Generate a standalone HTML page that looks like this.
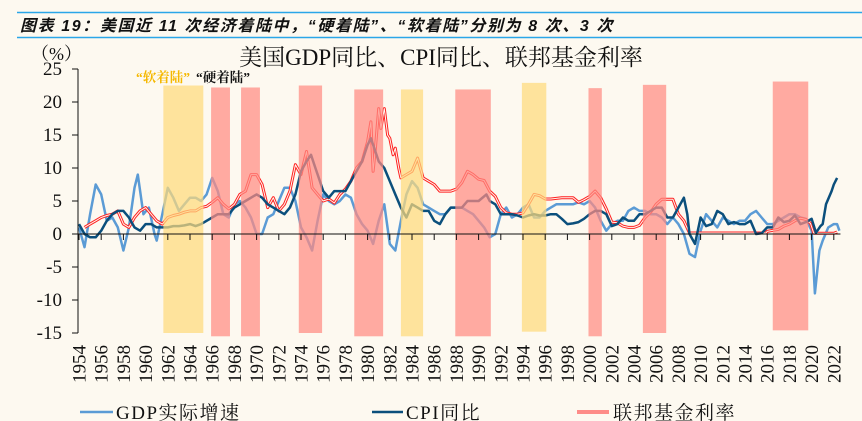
<!DOCTYPE html>
<html><head><meta charset="utf-8">
<style>
body{margin:0;background:#fdf9f0;}
#wrap{position:relative;width:862px;height:421px;background:#fdf9f0;overflow:hidden;font-family:"Liberation Serif","Noto Serif CJK SC",serif;}
</style></head>
<body>
<div id="wrap">
<svg id="svg" width="862" height="421" xmlns="http://www.w3.org/2000/svg">
<line x1="17" y1="12.5" x2="862" y2="12.5" stroke="#2aa6e8" stroke-width="1.5"/>
<line x1="17" y1="37.5" x2="862" y2="37.5" stroke="#2aa6e8" stroke-width="1.5"/>
<text x="20" y="31" font-family="'Liberation Sans','Noto Sans CJK SC',sans-serif" font-size="16" font-weight="bold" font-style="italic" letter-spacing="1.6" fill="#111">图表 19：美国近 11 次经济着陆中，“硬着陆”、“软着陆”分别为 8 次、3 次</text>
<text x="441" y="65" text-anchor="middle" font-size="23" fill="#111">美国GDP同比、CPI同比、联邦基金利率</text>
<text x="31" y="60" font-size="18" fill="#111">（%）</text>
<text x="136" y="82" font-size="13.5" font-weight="bold" fill="#f5b800" font-family="'Liberation Serif','Noto Serif CJK SC',serif">“软着陆”</text>
<text x="196" y="82" font-size="13.5" font-weight="bold" fill="#111" font-family="'Liberation Serif','Noto Serif CJK SC',serif">“硬着陆”</text>
<g id="lines"></g>
<g id="bands"></g>
<g id="axes"></g>
<g>
<line x1="80" y1="412" x2="113" y2="412" stroke="#5b9bd5" stroke-width="2.5"/>
<text x="116" y="419" font-size="19" letter-spacing="1.5" fill="#111">GDP实际增速</text>
<line x1="372" y1="412" x2="403" y2="412" stroke="#0b4f7c" stroke-width="2.5"/>
<text x="406" y="419" font-size="19" letter-spacing="1.5" fill="#111">CPI同比</text>
<line x1="577" y1="412" x2="609" y2="412" stroke="#ff2020" stroke-width="3"/>
<line x1="577" y1="412" x2="609" y2="412" stroke="#fdf9f0" stroke-width="1"/>
<text x="613" y="419" font-size="19" letter-spacing="1.5" fill="#111">联邦基金利率</text>
</g>
</svg>
</div>
<script>
const yTicks=[25,20,15,10,5,0,-5,-10,-15];
const xYears=[1954,1956,1958,1960,1962,1964,1966,1968,1970,1972,1974,1976,1978,1980,1982,1984,1986,1988,1990,1992,1994,1996,1998,2000,2002,2004,2006,2008,2010,2012,2014,2016,2018,2020,2022];
const bandStart=[1961.6,1965.9,1968.6,1973.8,1978.8,1983.0,1987.9,1993.9,1999.9,2004.8,2016.5];
const bandEnd=[1965.2,1967.6,1970.3,1975.9,1981.4,1985.0,1991.1,1996.1,2001.1,2006.9,2019.7];
const bandTop=[22.5,22.2,22.2,22.5,21.9,21.9,21.9,22.9,22.1,22.6,23.1];
const bandBottom=[-15,-15.5,-15.5,-15,-15.5,-15.5,-15.5,-14.8,-15.5,-15,-14.6];
const bandType=['soft','hard','hard','hard','hard','soft','hard','soft','hard','hard','hard'];
const gdpT=[1954,1954.5,1955,1955.5,1956,1956.5,1957,1957.5,1958,1958.5,1959,1959.3,1959.8,1960.3,1960.8,1961,1961.5,1962,1962.5,1963,1963.5,1964,1964.5,1965,1965.5,1966,1966.5,1967,1967.5,1968,1968.5,1969,1969.5,1970,1970.5,1971,1971.5,1972,1972.5,1973,1973.5,1974,1974.5,1975,1975.5,1976,1976.5,1977,1977.5,1978,1978.5,1979,1979.5,1980,1980.5,1981,1981.5,1982,1982.5,1983,1983.5,1984,1984.5,1985,1985.5,1986,1986.5,1987,1987.5,1988,1988.5,1989,1989.5,1990,1990.5,1991,1991.5,1992,1992.5,1993,1993.5,1994,1994.5,1995,1995.5,1996,1996.5,1997,1997.5,1998,1998.5,1999,1999.5,2000,2000.5,2001,2001.5,2002,2002.5,2003,2003.5,2004,2004.5,2005,2005.5,2006,2006.5,2007,2007.5,2008,2008.5,2009,2009.5,2010,2010.5,2011,2011.5,2012,2012.5,2013,2013.5,2014,2014.5,2015,2015.5,2016,2016.5,2017,2017.5,2018,2018.5,2019,2019.5,2020,2020.3,2020.7,2021,2021.5,2022,2022.3,2022.5];
const gdpV=[1,-2,3,7.5,6,2,2.5,1,-2.5,1,7,9,3,4,0,-1,3,7,5.5,3.5,4.5,5.5,5.5,5,6,8.5,6.5,3,2.5,4.5,5,4,2.5,0,0,2.5,3,5,7,7,5,1,-0.5,-2.5,2,6,5,4.5,5,6,5.5,3,1.5,0.5,-1.5,2,4.5,-1.5,-2.5,2,6,8,7,4.5,4,3.5,3,3,4,4,4,3.5,3,2,1,-0.5,0,3,4,2.5,3,4,4.5,2.5,2.5,3.5,4,4.5,4.5,4.5,4.5,4.8,4.5,5,4,2,0.5,1.5,2,2,3.5,4,3.5,3.5,3,3,2.5,1.5,2.5,1.5,0,-3,-3.5,0.5,3,2,1,2.5,2,1.5,2,2,3,3.5,2.5,1.5,1.5,2,2.5,3,3,2.5,2.3,0.5,-9,-2.5,-1,1,1.5,1.5,0.5];
const cpiT=[1954,1954.5,1955,1955.5,1956,1956.5,1957,1957.5,1958,1958.5,1959,1959.5,1960,1960.5,1961,1961.5,1962,1962.5,1963,1963.5,1964,1964.5,1965,1965.5,1966,1966.5,1967,1967.5,1968,1968.5,1969,1969.5,1970,1970.5,1971,1971.5,1972,1972.5,1973,1973.5,1974,1974.5,1974.9,1975.3,1975.7,1976,1976.5,1977,1977.5,1978,1978.5,1979,1979.5,1980,1980.3,1980.7,1981,1981.5,1982,1982.5,1983,1983.5,1984,1984.5,1985,1985.5,1986,1986.5,1987,1987.5,1988,1988.5,1989,1989.5,1990,1990.7,1991,1991.5,1992,1992.5,1993,1993.5,1994,1994.5,1995,1995.5,1996,1996.5,1997,1997.5,1998,1998.5,1999,1999.5,2000,2000.5,2001,2001.5,2002,2002.5,2003,2003.5,2004,2004.5,2005,2005.5,2006,2006.5,2007,2007.5,2008,2008.5,2008.8,2009,2009.5,2010,2010.5,2011,2011.5,2012,2012.5,2013,2013.5,2014,2014.5,2015,2015.5,2016,2016.5,2017,2017.5,2018,2018.5,2019,2019.5,2020,2020.4,2020.8,2021,2021.3,2021.8,2022,2022.3];
const cpiV=[1.5,0,-0.5,-0.5,0.5,2,3,3.5,3.5,2.5,1,0.5,1.5,1.5,1,1,1,1.2,1.2,1.3,1.5,1.2,1.5,2,2.5,3,3,3,4,4.5,5,5.5,6,5.5,4.5,4,3.5,3,4,6,9.5,11,12,10,8,6.5,5.5,6.5,6.5,6.5,8,9.5,11,13.5,14.5,12.5,11,10,8,6,4,2.5,4.5,4,3.5,3.5,2,1.5,3,4,4,4,5,5,5,6,5,4.5,3,3,3,2.8,2.5,2.8,3,2.8,2.8,3,3,2.3,1.5,1.6,1.8,2.3,3,3.5,3.5,3,1.2,1.5,2.5,2,2,3,3,3.5,4,4,2.5,2.5,4,5.5,3,0,-1.5,2.5,1.2,1.5,3.5,3,1.5,1.8,1.5,1.5,2,0,0.1,1,1,2.5,1.8,2,2.8,1.5,1.8,2.3,0.2,1.2,1.5,4.5,6.5,7.5,8.5];
const ffrT=[1954.5,1955,1955.5,1956,1956.5,1957,1957.5,1958,1958.5,1959,1959.5,1960,1960.5,1961,1961.5,1962,1962.5,1963,1963.5,1964,1964.5,1965,1965.5,1966,1966.5,1967,1967.5,1968,1968.5,1969,1969.5,1970,1970.5,1971,1971.5,1972,1972.5,1973,1973.5,1974,1974.5,1975,1975.5,1976,1976.5,1977,1977.5,1978,1978.5,1979,1979.5,1980,1980.3,1980.5,1980.7,1981,1981.2,1981.5,1981.8,1982,1982.3,1982.5,1982.8,1983,1983.5,1984,1984.5,1985,1985.5,1986,1986.5,1987,1987.5,1988,1988.5,1989,1989.5,1990,1990.5,1991,1991.5,1992,1992.5,1993,1993.5,1994,1994.5,1995,1995.5,1996,1996.5,1997,1997.5,1998,1998.5,1999,1999.5,2000,2000.5,2001,2001.5,2002,2002.5,2003,2003.5,2004,2004.5,2005,2005.5,2006,2006.5,2007,2007.5,2008,2008.5,2009,2015.9,2016,2017,2017.5,2018,2018.5,2019,2019.5,2019.9,2020.2,2022,2022.3];
const ffrV=[1,1.5,2,2.5,2.8,3,3.5,1.5,1,2.5,3.5,4,3,2,1.5,2.5,2.8,3,3.3,3.5,3.5,4,4.2,4.8,5.5,4.5,3.8,4.5,6,6.5,9,9,7.5,4,5.5,3.5,4.5,6.5,10.5,9,12.5,7,6,5,5.3,4.7,6,6.8,8,10,11,14,17,9.5,13,19,16,19,15,14.5,12,13,10,8.5,9,9.5,11.5,8.5,8,7.5,6.5,6.5,6.5,6.8,7.8,9.5,9,8.3,8.1,6.5,5.7,4,3.2,3,3,3.2,4.5,6,5.8,5.3,5.3,5.4,5.5,5.5,5.5,4.8,5.2,5.7,6.5,5.5,3.8,1.8,1.7,1.2,1,1,1.3,2.5,3.3,4.5,5.25,5.25,5.25,3,2,0.15,0.15,0.4,0.7,1.2,1.5,2,2.4,2.2,1.6,0.1,0.1,0.3];

const NS='http://www.w3.org/2000/svg';
const X0=79,PX=11.1,Y0=234,PY=6.6;
function xs(t){return X0+(t-1954)*PX;}
function ys(v){return Y0-v*PY;}
function mk(tag,attrs,parent){const e=document.createElementNS(NS,tag);for(const k in attrs)e.setAttribute(k,attrs[k]);parent.appendChild(e);return e;}
function pathD(T,V){return T.map((t,i)=>(i?'L':'M')+xs(t).toFixed(1)+','+ys(V[i]).toFixed(1)).join('');}

const lines=document.getElementById('lines');
let p;
p=mk('path',{d:pathD(gdpT,gdpV),fill:'none',stroke:'#5b9bd5','stroke-width':2.5,'stroke-linejoin':'round'},lines);


p=mk('path',{d:pathD(ffrT,ffrV),fill:'none',stroke:'#ff2020','stroke-width':3,'stroke-linejoin':'round'},lines);


p=mk('path',{d:pathD(ffrT,ffrV),fill:'none',stroke:'#fdf9f0','stroke-width':1,'stroke-linejoin':'round'},lines);


p=mk('path',{d:pathD(cpiT,cpiV),fill:'none',stroke:'#0b4f7c','stroke-width':2.5,'stroke-linejoin':'round'},lines);



const bands=document.getElementById('bands');
bandStart.forEach((s,i)=>{
  const soft=bandType[i]==='soft';
  const r=mk('rect',{x:xs(s),y:ys(bandTop[i]),width:(bandEnd[i]-s)*PX,height:ys(bandBottom[i])-ys(bandTop[i]),fill:soft?'#fdd97c':'#ff8a82','fill-opacity':0.72},bands);
  
  
});

const axes=document.getElementById('axes');
let a=mk('line',{x1:X0-1,y1:ys(25),x2:X0-1,y2:ys(-15),stroke:'#111','stroke-width':1},axes);


a=mk('line',{x1:X0-1,y1:Y0,x2:xs(2022.6),y2:Y0,stroke:'#111','stroke-width':1},axes);


yTicks.forEach(v=>{
  const t=mk('line',{x1:X0-7,y1:ys(v),x2:X0-1,y2:ys(v),stroke:'#111'},axes);
  
  
  const l=mk('text',{x:X0-17,y:ys(v)+6,'text-anchor':'end','font-size':19,fill:'#111'},axes);
  l.textContent=v;
  
  
});
xYears.forEach(yr=>{
  const x=xs(yr);
  const t=mk('line',{x1:x,y1:Y0,x2:x,y2:Y0+6,stroke:'#111'},axes);
  
  
  const l=mk('text',{x:0,y:0,'text-anchor':'end','font-size':19,fill:'#111',transform:'translate('+(x+6.5)+',345) rotate(-90)'},axes);
  l.textContent=yr;
  
  
});
</script>
</body></html>
